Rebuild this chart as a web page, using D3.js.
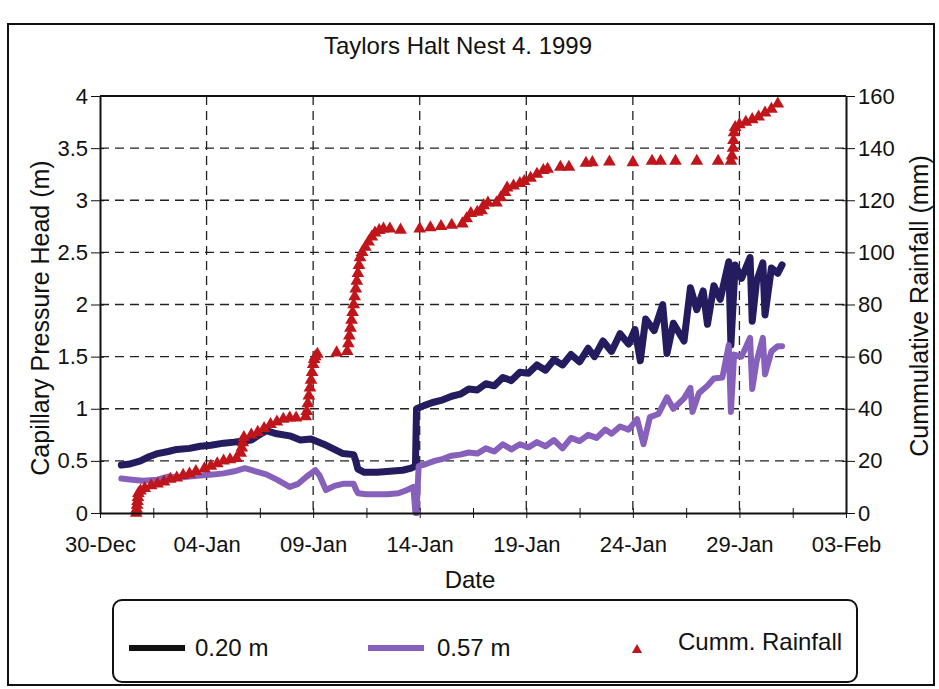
<!DOCTYPE html>
<html>
<head>
<meta charset="utf-8">
<script src="https://cdn.jsdelivr.net/npm/d3@7"></script>
<style>
  html, body { margin: 0; padding: 0; background: #fff; }
  svg { display: block; font-family: "Liberation Sans", Arial, sans-serif; }
</style>
</head>
<body>
<svg id="chart" width="939" height="689"></svg>
<script>
// ---------- data (day offset from 30-Dec-1998 00:00, value) ----------
const title = "Taylors Halt Nest 4. 1999";
const xTickLabels = ["30-Dec","04-Jan","09-Jan","14-Jan","19-Jan","24-Jan","29-Jan","03-Feb"];
const leftTicks = [0,0.5,1,1.5,2,2.5,3,3.5,4];
const rightTicks = [0,20,40,60,80,100,120,140,160];
const seriesNames = ["0.20 m","0.57 m","Cumm. Rainfall"];

// 0.20 m capillary pressure head (m)
const head020 = [
 [1.0,0.46],[1.4,0.47],[1.9,0.50],[2.3,0.54],[2.7,0.57],[3.2,0.59],[3.6,0.61],[4.2,0.62],[4.7,0.64],
 [5.2,0.65],[5.8,0.67],[6.3,0.68],[6.7,0.69],[7.1,0.70],[7.4,0.74],[7.8,0.79],[8.3,0.76],[8.9,0.74],
 [9.4,0.70],[9.9,0.71],[10.5,0.66],[11.0,0.61],[11.4,0.57],[11.9,0.56],[12.0,0.50],[12.1,0.42],
 [12.4,0.39],[13.0,0.39],[13.6,0.40],[14.2,0.41],[14.6,0.43],[14.8,0.45],[14.85,1.00],
 [15.2,1.03],[15.6,1.06],[16.0,1.08],[16.5,1.12],[16.9,1.14],[17.3,1.19],[17.7,1.18],[18.1,1.24],
 [18.5,1.22],[18.9,1.30],[19.3,1.27],[19.7,1.35],[20.1,1.34],[20.5,1.42],[20.9,1.37],[21.3,1.47],
 [21.7,1.42],[22.1,1.52],[22.5,1.45],[22.9,1.58],[23.2,1.50],[23.6,1.65],[24.0,1.55],[24.4,1.72],
 [24.8,1.62],[25.1,1.76],[25.35,1.46],[25.6,1.86],[26.0,1.75],[26.4,2.00],[26.6,1.53],[26.9,1.82],
 [27.4,1.65],[27.7,2.16],[28.0,1.95],[28.3,2.13],[28.5,1.81],[28.8,2.18],[29.1,2.05],[29.5,2.41],
 [29.6,1.61],[29.8,2.38],[30.1,2.25],[30.5,2.45],[30.6,1.84],[30.8,2.22],[31.1,2.40],[31.2,1.90],
 [31.5,2.35],[31.8,2.30],[32.0,2.38]
];

// 0.57 m capillary pressure head (m)
const head057 = [
 [1.0,0.33],[1.5,0.32],[2.0,0.31],[2.7,0.32],[3.2,0.35],[3.7,0.34],[4.2,0.35],[4.7,0.36],[5.3,0.37],
 [5.8,0.38],[6.3,0.40],[6.8,0.43],[7.3,0.40],[7.8,0.37],[8.3,0.32],[8.9,0.25],[9.3,0.28],[9.7,0.35],
 [10.1,0.41],[10.3,0.36],[10.6,0.22],[11.0,0.26],[11.4,0.28],[11.9,0.28],[12.0,0.23],[12.1,0.19],
 [12.5,0.18],[13.0,0.18],[13.5,0.18],[14.0,0.19],[14.4,0.22],[14.7,0.25],[14.8,0.0],[14.85,0.0],
 [14.95,0.45],[15.3,0.47],[15.7,0.50],[16.1,0.52],[16.5,0.55],[16.9,0.56],[17.3,0.58],[17.7,0.57],
 [18.1,0.62],[18.5,0.59],[18.9,0.66],[19.3,0.61],[19.7,0.66],[20.1,0.63],[20.5,0.68],[20.9,0.64],
 [21.3,0.70],[21.7,0.62],[22.1,0.72],[22.5,0.69],[22.9,0.75],[23.3,0.72],[23.7,0.80],[24.0,0.76],
 [24.4,0.83],[24.8,0.80],[25.2,0.90],[25.5,0.66],[25.8,0.92],[26.2,0.95],[26.6,1.11],[26.9,1.00],
 [27.4,1.10],[27.7,1.20],[27.8,0.97],[28.1,1.15],[28.5,1.22],[28.8,1.29],[29.2,1.30],[29.5,1.61],
 [29.6,0.97],[29.75,1.52],[30.1,1.50],[30.5,1.68],[30.6,1.19],[30.8,1.45],[31.1,1.68],[31.2,1.33],
 [31.5,1.55],[31.8,1.60],[32.0,1.60]
];

// cumulative rainfall (mm)
const rainfall = [
 [1.70,0],[1.72,1.5],[1.74,3],[1.76,4.5],[1.78,6],[1.80,7.5],[1.9,8.5],[2.1,9.5],[2.4,10.5],[2.7,11.2],
 [3.0,12],[3.3,13],[3.6,13.5],[3.9,14.5],[4.2,15],[4.5,16],[4.9,17],[5.2,18],[5.5,19],[5.8,20],
 [6.1,20.5],[6.4,21],[6.6,23],[6.65,25],[6.7,27],[6.75,29],[7.1,30],[7.4,31],[7.7,32.5],[8.0,34],
 [8.3,35],[8.6,36],[8.9,36.5],[9.2,36.5],[9.65,37],[9.7,39],[9.75,42],[9.8,45],[9.85,48],[9.9,51],
 [9.95,54],[10.0,57],[10.05,59],[10.1,60],[10.2,61],[11.1,61.5],[11.6,62],[11.65,65],[11.7,68],
 [11.75,71],[11.8,74],[11.85,77],[11.9,80],[11.95,83],[12.0,86],[12.05,89],[12.1,92],[12.15,95],
 [12.2,98],[12.3,100],[12.45,102],[12.6,104],[12.75,106],[12.9,107.5],[13.1,108.5],[13.3,109],
 [13.6,109],[14.1,108.6],[15.0,109],[15.5,109.5],[16.0,110],[16.5,110.5],[17.0,111],[17.2,113],
 [17.4,115],[17.7,115.5],[17.9,116],[18.0,118],[18.2,119],[18.6,119],[18.8,121],[19.0,123],
 [19.1,124.8],[19.4,125.5],[19.7,126.5],[19.9,127.3],[20.2,128.5],[20.5,130],[20.8,131.5],[21.0,132],
 [21.6,132.7],[22.0,132.7],[22.8,134.3],[23.1,134.5],[23.9,134.7],[25.0,134.5],[25.9,135],[26.3,135],
 [27.0,135],[28.0,135],[29.0,135],[29.6,135],[29.65,137],[29.7,140],[29.72,143],[29.75,146],
 [29.8,148],[30.0,149],[30.3,150],[30.6,151],[30.9,152],[31.2,153.5],[31.5,155],[31.8,157]
];

// ---------- drawing ----------
const start = new Date(1998, 11, 30);
const toDate = d => new Date(start.getTime() + d * 86400000);
const parseLbl = d3.timeParse("%d-%b-%Y");
const majorDates = xTickLabels.map((s, i) => parseLbl(s + (i === 0 ? "-1998" : "-1999")));
const minorDates = majorDates.slice(1).map((d, i) => new Date((d.getTime() + majorDates[i].getTime()) / 2));

const L = 100, R = 846, T = 96, B = 513;

const svg = d3.select("#chart");
const x = d3.scaleTime().domain([majorDates[0], majorDates[majorDates.length - 1]]).range([L, R]);
const yL = d3.scaleLinear().domain([0, 4]).range([B, T]);
const yR = d3.scaleLinear().domain([0, 160]).range([B, T]);

// outer frame
svg.append("rect").attr("x", 8).attr("y", 24).attr("width", 926).attr("height", 661)
  .attr("fill", "none").attr("stroke", "#111").attr("stroke-width", 2);

// title
svg.append("text").attr("x", 458).attr("y", 54).attr("text-anchor", "middle")
  .attr("font-size", 24).attr("fill", "#111").text(title);

// grid
const grid = svg.append("g").attr("stroke", "#222").attr("stroke-width", 1.3).attr("stroke-dasharray", "9,6");
grid.selectAll("line.h").data(leftTicks.filter(v => v > 0 && v < 4)).join("line")
  .attr("x1", L).attr("x2", R).attr("y1", d => yL(d)).attr("y2", d => yL(d));
grid.selectAll("line.v").data(majorDates.slice(1, -1)).join("line")
  .attr("x1", d => x(d)).attr("x2", d => x(d)).attr("y1", T).attr("y2", B);

// top border
svg.append("line").attr("x1", L).attr("x2", R).attr("y1", T).attr("y2", T).attr("stroke", "#111").attr("stroke-width", 2);

// series lines
const line = d3.line().x(d => x(toDate(d[0]))).y(d => yL(d[1])).curve(d3.curveLinear);
svg.append("path").datum(head020).attr("d", line).attr("fill", "none")
  .attr("stroke", "#241c5e").attr("stroke-width", 7).attr("stroke-linejoin", "round").attr("stroke-linecap", "round");
svg.append("path").datum(head057).attr("d", line).attr("fill", "none")
  .attr("stroke", "#8660bb").attr("stroke-width", 6).attr("stroke-linejoin", "round").attr("stroke-linecap", "round");

// rainfall markers
const tri = d3.symbol().type(d3.symbolTriangle).size(70);
svg.append("g").selectAll("path").data(rainfall).join("path")
  .attr("transform", d => `translate(${x(toDate(d[0]))},${yR(d[1])})`)
  .attr("d", tri).attr("fill", "#bf151b");

// axes
const fontSize = 22;
const gx = svg.append("g").attr("transform", `translate(0,${B})`)
  .call(d3.axisBottom(x).tickValues(majorDates).tickFormat(d3.timeFormat("%d-%b")).tickSizeOuter(0));
gx.selectAll(".tick line").attr("y1", -5).attr("y2", 5);
gx.selectAll(".tick text").attr("y", 31).attr("dy", "0.35em");
const gxm = svg.append("g").attr("transform", `translate(0,${B})`)
  .call(d3.axisBottom(x).tickValues(minorDates).tickFormat("").tickSizeOuter(0));
gxm.selectAll(".tick line").attr("y1", -5).attr("y2", 5);
gxm.select(".domain").remove();

const gl = svg.append("g").attr("transform", `translate(${L},0)`)
  .call(d3.axisLeft(yL).tickValues(leftTicks).tickFormat(d => String(d)).tickSizeOuter(0));
gl.selectAll(".tick line").attr("x1", -9).attr("x2", 4);
gl.selectAll(".tick text").attr("x", -12);

const gr = svg.append("g").attr("transform", `translate(${R},0)`)
  .call(d3.axisRight(yR).tickValues(rightTicks).tickSizeOuter(0));
gr.selectAll(".tick line").attr("x1", -4).attr("x2", 9);
gr.selectAll(".tick text").attr("x", 12);

[gx, gl, gr].forEach(g => {
  g.attr("font-family", null).attr("font-size", null);
  g.selectAll("text").attr("font-size", fontSize).attr("fill", "#111");
  g.selectAll("line, .domain").attr("stroke", "#111");
  g.select(".domain").attr("stroke-width", 2);
});
gxm.selectAll("line").attr("stroke", "#111");

// axis titles
svg.append("text").attr("x", 470).attr("y", 588).attr("text-anchor", "middle")
  .attr("font-size", 24).attr("fill", "#111").text("Date");
svg.append("text").attr("transform", "translate(49,318) rotate(-90)").attr("text-anchor", "middle")
  .attr("font-size", 25).attr("fill", "#111").text("Capillary Pressure Head (m)");
svg.append("text").attr("transform", "translate(928,306) rotate(-90)").attr("text-anchor", "middle")
  .attr("font-size", 25).attr("fill", "#111").text("Cummulative Rainfall (mm)");

// legend
const lg = svg.append("g");
lg.append("rect").attr("x", 113).attr("y", 600).attr("width", 744).attr("height", 82).attr("rx", 9)
  .attr("fill", "#fff").attr("stroke", "#111").attr("stroke-width", 2);
const ly = 648;
lg.append("line").attr("x1", 129).attr("x2", 185).attr("y1", ly).attr("y2", ly).attr("stroke", "#111").attr("stroke-width", 6);
lg.append("text").attr("x", 195).attr("y", ly).attr("dy", "0.35em").attr("font-size", 24).attr("fill", "#111").text(seriesNames[0]);
lg.append("line").attr("x1", 368).attr("x2", 424).attr("y1", ly).attr("y2", ly).attr("stroke", "#8660bb").attr("stroke-width", 6);
lg.append("text").attr("x", 437).attr("y", ly).attr("dy", "0.35em").attr("font-size", 24).attr("fill", "#111").text(seriesNames[1]);
lg.append("path").attr("transform", `translate(637,${ly + 2})`).attr("d", d3.symbol().type(d3.symbolTriangle).size(45)).attr("fill", "#bf151b");
lg.append("text").attr("x", 678).attr("y", ly - 6).attr("dy", "0.35em").attr("font-size", 24).attr("fill", "#111").text(seriesNames[2]);
</script>
</body>
</html>
